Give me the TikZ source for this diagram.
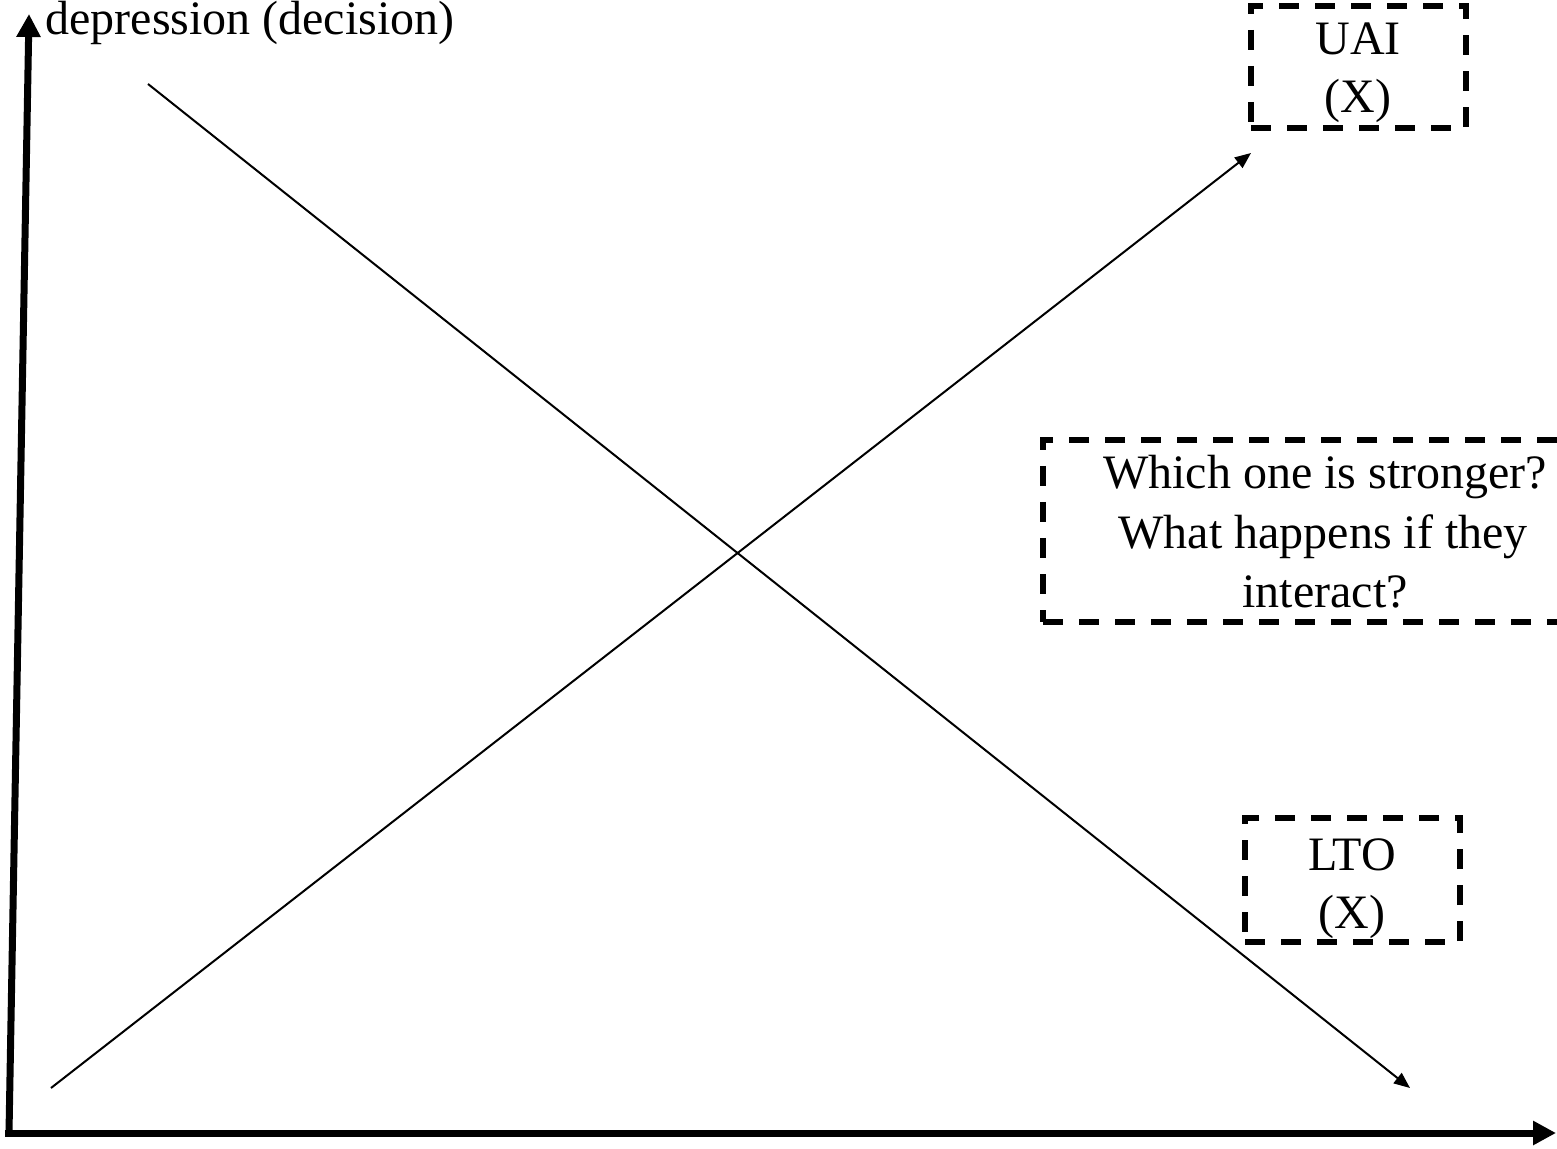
\documentclass[tikz,border=0pt]{standalone}
\usepackage{fontspec}
\setmainfont{Liberation Serif}
\usetikzlibrary{arrows.meta}
\begin{document}
\begin{tikzpicture}[x=0.5pt,y=-0.5pt,
  axis/.style={line width=3.5pt,-{Triangle[length=11.5pt,width=11.5pt]}},
  trend/.style={line width=1pt,-{Triangle[length=8pt,width=6.5pt]}},
  dbox/.style={draw,line width=2.8pt,dash pattern=on 10pt off 8pt,inner sep=0pt},
  txt/.style={inner sep=0pt,anchor=base,font=\fontsize{24pt}{29pt}\selectfont}]
\useasboundingbox (0,0) rectangle (1557,1149);
\clip (0,0) rectangle (1557,1149);
% axes
\coordinate (o) at (9,1133);
\coordinate (ytop) at (29,14);
\coordinate (xs) at (5,1133);
\coordinate (xend) at (1556,1133);
\draw[axis] (o) -- (ytop);
\draw[axis] (xs) -- (xend);
\node[txt,anchor=base west] (ylab) at (45,35) {depression (decision)};
% trend lines
\coordinate (a1) at (148,84);
\coordinate (a2) at (1410,1088);
\coordinate (b1) at (51,1088);
\coordinate (b2) at (1251,153);
\draw[trend] (a1) -- (a2);
\draw[trend] (b1) -- (b2);
% boxes
\node[dbox,minimum width=107.5pt,minimum height=61pt] (uai) at (1358.5,67) {};
\node[txt] (uai1) at (1358,55) {UAI};
\node[txt] (uai2) at (1358,113) {(X)};
\node[dbox,minimum width=107.5pt,minimum height=62pt] (lto) at (1352.5,880) {};
\node[txt] (lto1) at (1352,870) {LTO};
\node[txt] (lto2) at (1352,928) {(X)};
\node[dbox,minimum width=290pt,minimum height=91pt] (q) at (1333,531) {};
\node[txt] (q1) at (1325,488) {Which one is stronger?};
\node[txt] (q2) at (1323,548) {What happens if they};
\node[txt] (q3) at (1325,607) {interact?};
\end{tikzpicture}
\end{document}
